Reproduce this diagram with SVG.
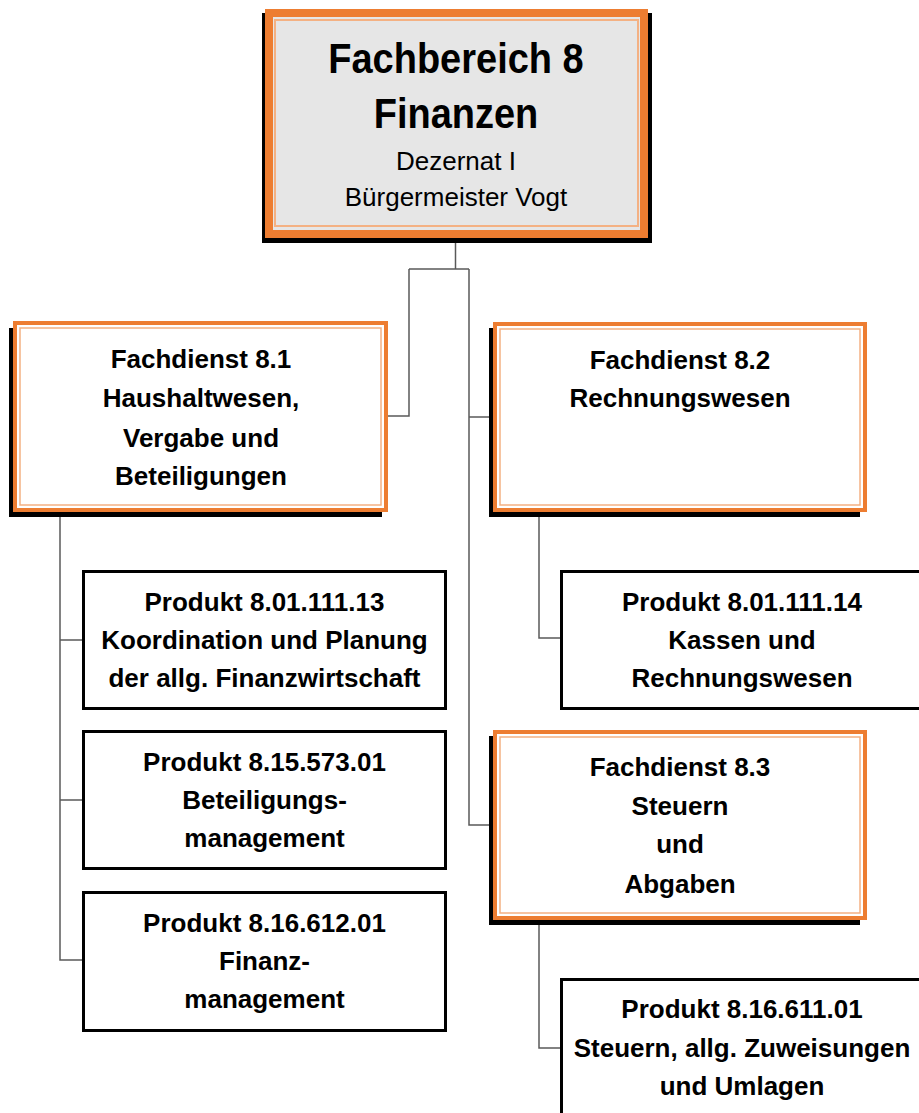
<svg xmlns="http://www.w3.org/2000/svg" width="919" height="1113" viewBox="0 0 919 1113">
<style>
.shadow{fill:#000}
.fd-outer{fill:#fff;stroke:#ED7D31;stroke-width:4}
.fd-inner{fill:none;stroke:#F4B183;stroke-width:1.5}
.prod{fill:#fff;stroke:#000;stroke-width:3}
.conn{fill:none;stroke:#595959;stroke-width:1.5}
text{font-family:"Liberation Sans",Arial,sans-serif;fill:#000;text-anchor:middle}
.b{font-weight:bold;font-size:26px}
.t{font-weight:bold;font-size:38px}
.n{font-size:26px}
</style>
<rect width="919" height="1113" fill="#fff"/>
<g id="connectors">
<path class="conn" d="M455.5,243 V269"/>
<path class="conn" d="M409,269 H469"/>
<path class="conn" d="M409,269 V416 H388"/>
<path class="conn" d="M469,269 V825 H493"/>
<path class="conn" d="M469,417 H493"/>
<path class="conn" d="M60,517 V960 H82"/>
<path class="conn" d="M60,640 H82"/>
<path class="conn" d="M60,800 H82"/>
<path class="conn" d="M539,517 V638 H560"/>
<path class="conn" d="M539,925 V1048 H560"/>
</g>
<g id="fb8">
<rect class="shadow" x="262" y="13" width="390" height="230"/>
<rect x="269" y="13" width="375" height="221" fill="#e6e6e6" stroke="#ED7D31" stroke-width="8"/>
<rect x="275" y="20" width="363" height="206" fill="none" stroke="#F4B183" stroke-width="2"/>
<text class="t" transform="translate(456,73) scale(1,1.1)">Fachbereich 8</text>
<text class="t" transform="translate(456,128) scale(1,1.1)">Finanzen</text>
<text class="n" x="456" y="170">Dezernat I</text>
<text class="n" x="456" y="206">Bürgermeister Vogt</text>
</g>
<g id="fd81">
<rect class="shadow" x="9" y="328" width="373" height="189"/>
<rect class="fd-outer" x="15" y="323" width="371" height="187"/>
<rect class="fd-inner" x="20" y="328" width="361" height="177"/>
<text class="b" x="201" y="368">Fachdienst 8.1</text>
<text class="b" x="201" y="407">Haushaltwesen,</text>
<text class="b" x="201" y="447">Vergabe und</text>
<text class="b" x="201" y="485">Beteiligungen</text>
</g>
<g id="fd82">
<rect class="shadow" x="489" y="328" width="371" height="189"/>
<rect class="fd-outer" x="495" y="324" width="370" height="186"/>
<rect class="fd-inner" x="500" y="329" width="360" height="176"/>
<text class="b" x="680" y="369">Fachdienst 8.2</text>
<text class="b" x="680" y="407">Rechnungswesen</text>
</g>
<g id="fd83">
<rect class="shadow" x="489" y="736" width="371" height="189"/>
<rect class="fd-outer" x="495" y="732" width="370" height="186"/>
<rect class="fd-inner" x="500" y="737" width="360" height="176"/>
<text class="b" x="680" y="776">Fachdienst 8.3</text>
<text class="b" x="680" y="815">Steuern</text>
<text class="b" x="680" y="853">und</text>
<text class="b" x="680" y="893">Abgaben</text>
</g>
<g id="p1">
<rect class="prod" x="83.5" y="571.5" width="362" height="137"/>
<text class="b" x="264.5" y="611">Produkt 8.01.111.13</text>
<text class="b" x="264.5" y="649">Koordination und Planung</text>
<text class="b" x="264.5" y="687">der allg. Finanzwirtschaft</text>
</g>
<g id="p2">
<rect class="prod" x="83.5" y="731.5" width="362" height="137"/>
<text class="b" x="264.5" y="771">Produkt 8.15.573.01</text>
<text class="b" x="264.5" y="809">Beteiligungs-</text>
<text class="b" x="264.5" y="847">management</text>
</g>
<g id="p3">
<rect class="prod" x="83.5" y="892.5" width="362" height="138"/>
<text class="b" x="264.5" y="932">Produkt 8.16.612.01</text>
<text class="b" x="264.5" y="970">Finanz-</text>
<text class="b" x="264.5" y="1008">management</text>
</g>
<g id="p4">
<rect class="prod" x="561.5" y="571.5" width="362" height="137"/>
<text class="b" x="742" y="611">Produkt 8.01.111.14</text>
<text class="b" x="742" y="649">Kassen und</text>
<text class="b" x="742" y="687">Rechnungswesen</text>
</g>
<g id="p5">
<rect class="prod" x="561.5" y="979.5" width="362" height="140"/>
<text class="b" x="742" y="1018">Produkt 8.16.611.01</text>
<text class="b" x="742" y="1057">Steuern, allg. Zuweisungen</text>
<text class="b" x="742" y="1095">und Umlagen</text>
</g>
</svg>
